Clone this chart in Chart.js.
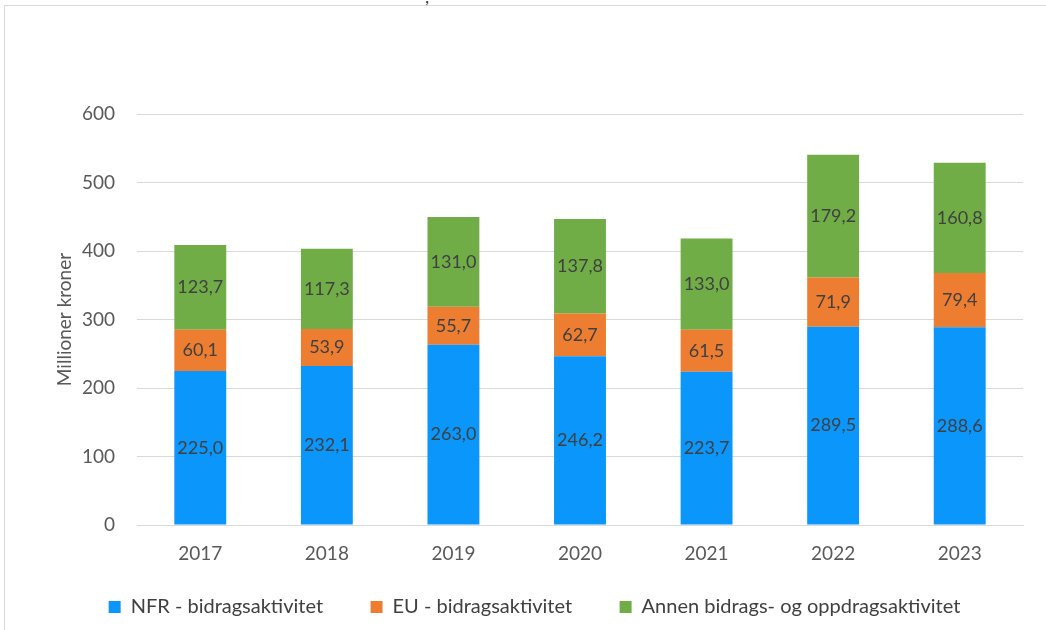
<!DOCTYPE html>
<html>
<head>
<meta charset="utf-8">
<script src="https://cdn.jsdelivr.net/npm/chart.js@4/dist/chart.umd.min.js"></script>
<style>
  html, body { margin: 0; padding: 0; background: #fff; }
  #wrap { position: relative; width: 1046px; height: 630px; overflow: hidden; }
  #frame { position: absolute; left: 4px; top: 5px; width: 1060px; height: 700px;
           border-left: 1px solid #d9d9d9; border-top: 1px solid #d9d9d9; }
  #cut { position: absolute; left: 425px; top: -15px; font: 18px Lato, sans-serif; color: #404040; }
  canvas { position: absolute; left: 0; top: 0; }
</style>
</head>
<body>
<div id="wrap">
  <div id="frame"></div>
  <div id="cut">,</div>
  <canvas id="chart" width="1046" height="630"></canvas>
</div>
<script>
// chart data
const years = ["2017", "2018", "2019", "2020", "2021", "2022", "2023"];
const nfr = [225.0, 232.1, 263.0, 246.2, 223.7, 289.5, 288.6];
const eu = [60.1, 53.9, 55.7, 62.7, 61.5, 71.9, 79.4];
const annen = [123.7, 117.3, 131.0, 137.8, 133.0, 179.2, 160.8];
const seriesNames = ["NFR - bidragsaktivitet", "EU - bidragsaktivitet", "Annen bidrags- og oppdragsaktivitet"];

const fontFamily = "Lato, 'Open Sans', sans-serif";

// draws the value in the middle of each bar segment
const segmentLabels = {
  id: "segmentLabels",
  afterDatasetsDraw(chart) {
    const ctx = chart.ctx;
    ctx.save();
    ctx.font = "18px " + fontFamily;
    ctx.fillStyle = "#404040";
    ctx.textAlign = "center";
    ctx.textBaseline = "middle";
    chart.data.datasets.forEach((ds, i) => {
      chart.getDatasetMeta(i).data.forEach((bar, j) => {
        const mid = (bar.y + bar.base) / 2;
        ctx.fillText(ds.data[j].toFixed(1).replace(".", ","), bar.x, mid);
      });
    });
    ctx.restore();
  }
};

const ctx = document.getElementById("chart").getContext("2d");
new Chart(ctx, {
  type: "bar",
  data: {
    labels: years,
    datasets: [
      { label: seriesNames[0], data: nfr, backgroundColor: "#0a96fa" },
      { label: seriesNames[1], data: eu, backgroundColor: "#ed7d31" },
      { label: seriesNames[2], data: annen, backgroundColor: "#70ad47" }
    ]
  },
  options: {
    responsive: false,
    animation: false,
    layout: { padding: { top: 114, right: 23, bottom: 3, left: 46 } },
    datasets: { bar: { barPercentage: 0.41, categoryPercentage: 1.0 } },
    plugins: {
      tooltip: { enabled: false },
      legend: {
        position: "bottom",
        labels: {
          boxWidth: 12,
          boxHeight: 12,
          padding: 27,
          color: "#404040",
          font: { family: fontFamily, size: 20 },
          // extra room between entries, like the original
          generateLabels(chart) {
            const items = Chart.defaults.plugins.legend.labels.generateLabels(chart);
            items.forEach((it, i) => { if (i < items.length - 1) it.text += "    "; });
            return items;
          }
        }
      }
    },
    scales: {
      x: {
        stacked: true,
        grid: { display: false },
        border: { display: true, color: "#d9d9d9" },
        ticks: { color: "#595959", padding: 9, font: { family: fontFamily, size: 19 } },
        afterFit(scale) { scale.height = 45; }
      },
      y: {
        stacked: true,
        min: 0,
        max: 600,
        ticks: { stepSize: 100, color: "#595959", padding: 22, font: { family: fontFamily, size: 19 } },
        grid: { color: "#d9d9d9", drawTicks: false },
        border: { display: false },
        title: {
          display: true,
          text: "Millioner kroner",
          color: "#595959",
          padding: { top: 7, bottom: 4 },
          font: { family: fontFamily, size: 19 }
        },
        afterFit(scale) { scale.width = 91; }
      }
    }
  },
  plugins: [segmentLabels]
});
</script>
</body>
</html>
